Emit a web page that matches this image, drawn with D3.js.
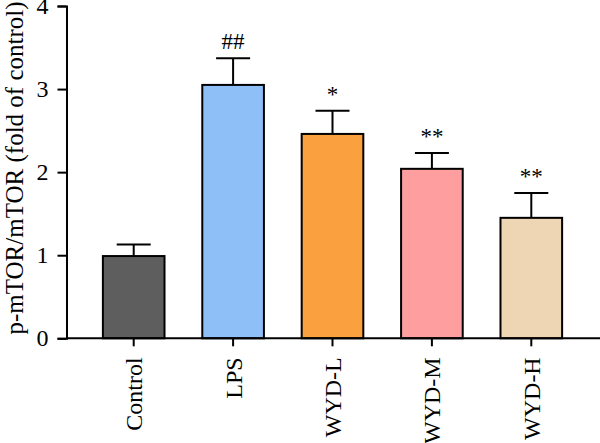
<!DOCTYPE html>
<html>
<head>
<meta charset="utf-8">
<script src="https://cdn.jsdelivr.net/npm/d3@7"></script>
<style>
  body { margin: 0; background: #fff; }
  text { font-family: "Liberation Serif", "DejaVu Serif", serif; fill: #000; }
</style>
</head>
<body>
<div id="chart"></div>
<script>
// data
var groups = ["Control", "LPS", "WYD-L", "WYD-M", "WYD-H"];
var means = [0.99, 3.05, 2.46, 2.04, 1.45];
var errors = [0.14, 0.32, 0.28, 0.19, 0.30];
var marks = ["", "##", "*", "**", "**"];
var colors = ["#5e5e5e", "#8fbff7", "#fba03e", "#ff9e9f", "#eed5b3"];
var yTicks = [0, 1, 2, 3, 4];

var width = 600, height = 443;

var svg = d3.select("#chart")
  .append("svg")
    .attr("width", width)
    .attr("height", height);

// scales
var x = d3.scaleBand()
  .domain(groups)
  .range([84, 581])
  .paddingInner(0.38)
  .paddingOuter(0.19);

var y = d3.scaleLinear()
  .domain([0, 4])
  .range([338.3, 6]);

// bars
svg.selectAll("rect.bar")
  .data(groups)
  .enter().append("rect")
    .attr("class", "bar")
    .attr("x", function(d) { return x(d); })
    .attr("width", x.bandwidth())
    .attr("y", function(d, i) { return y(means[i]); })
    .attr("height", function(d, i) { return y(0) - y(means[i]); })
    .attr("fill", function(d, i) { return colors[i]; })
    .attr("stroke", "#000")
    .attr("stroke-width", 2);

// error bars (upper only)
var capW = 34;
var eb = svg.selectAll("g.err")
  .data(groups)
  .enter().append("g")
    .attr("class", "err");
eb.append("line")
  .attr("x1", function(d) { return x(d) + x.bandwidth() / 2; })
  .attr("x2", function(d) { return x(d) + x.bandwidth() / 2; })
  .attr("y1", function(d, i) { return y(means[i]); })
  .attr("y2", function(d, i) { return y(means[i] + errors[i]); })
  .attr("stroke", "#000").attr("stroke-width", 2);
eb.append("line")
  .attr("x1", function(d) { return x(d) + x.bandwidth() / 2 - capW / 2; })
  .attr("x2", function(d) { return x(d) + x.bandwidth() / 2 + capW / 2; })
  .attr("y1", function(d, i) { return y(means[i] + errors[i]); })
  .attr("y2", function(d, i) { return y(means[i] + errors[i]); })
  .attr("stroke", "#000").attr("stroke-width", 2);

// significance marks
svg.selectAll("text.sig")
  .data(groups)
  .enter().append("text")
    .attr("class", "sig")
    .attr("x", function(d) { return x(d) + x.bandwidth() / 2; })
    .attr("y", function(d, i) { return y(means[i] + errors[i]) - 9; })
    .attr("text-anchor", "middle")
    .style("font-size", "23px")
    .text(function(d, i) { return marks[i]; });

// y axis
var yAxis = svg.append("g")
  .attr("transform", "translate(66.5,0)")
  .call(d3.axisLeft(y).tickValues(yTicks).tickSize(9).tickPadding(9).tickFormat(d3.format("d")));
yAxis.attr("font-size", null);
yAxis.selectAll("text").style("font-size", "24px").attr("font-family", null);
yAxis.selectAll("line, path").attr("stroke", "#000").attr("stroke-width", 2);

// x axis
var xAxis = svg.append("g")
  .attr("transform", "translate(0," + y(0) + ")")
  .call(d3.axisBottom(x).tickSize(8).tickSizeOuter(0));
xAxis.attr("font-size", null);
xAxis.select(".domain").attr("d", "M66.5,0H600");
xAxis.selectAll("line, path").attr("stroke", "#000").attr("stroke-width", 2);
xAxis.selectAll("text")
  .attr("transform", "rotate(-90)")
  .attr("x", -19)
  .attr("y", 0)
  .attr("dy", "0.35em")
  .attr("text-anchor", "end")
  .attr("font-family", null)
  .style("font-size", "24px");

// y label
svg.append("text")
  .attr("transform", "translate(23," + 168 + ") rotate(-90)")
  .attr("text-anchor", "middle")
  .style("font-size", "25px")
  .text("p-mTOR/mTOR (fold of control)");
</script>
</body>
</html>
